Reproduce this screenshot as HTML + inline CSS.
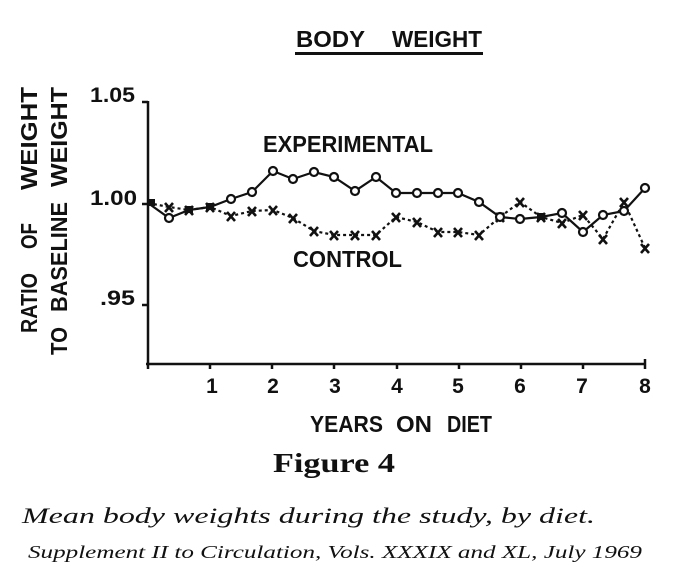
<!DOCTYPE html>
<html><head><meta charset="utf-8"><style>
html,body{margin:0;padding:0;background:#fff;}
svg{display:block;}
.s{font-family:"Liberation Sans",sans-serif;font-weight:bold;fill:#111;}
.r{font-family:"Liberation Serif",serif;fill:#111;}
</style></head><body>
<svg width="677" height="584" viewBox="0 0 677 584" xmlns="http://www.w3.org/2000/svg">
<rect width="677" height="584" fill="#fff"/>
<!-- title -->
<text class="s" x="296" y="47" font-size="23" textLength="69" lengthAdjust="spacingAndGlyphs">BODY</text>
<text class="s" x="392" y="47" font-size="23" textLength="90" lengthAdjust="spacingAndGlyphs">WEIGHT</text>
<rect x="295" y="52" width="188" height="3" fill="#111"/>
<!-- y label -->
<g transform="translate(37,333) rotate(-90)">
<text class="s" x="0" y="0" font-size="23" textLength="60" lengthAdjust="spacingAndGlyphs">RATIO</text>
<text class="s" x="84" y="0" font-size="23" textLength="26" lengthAdjust="spacingAndGlyphs">OF</text>
<text class="s" x="143" y="0" font-size="23" textLength="103" lengthAdjust="spacingAndGlyphs">WEIGHT</text>
</g>
<g transform="translate(67,355) rotate(-90)">
<text class="s" x="0" y="0" font-size="23" textLength="28" lengthAdjust="spacingAndGlyphs">TO</text>
<text class="s" x="43" y="0" font-size="23" textLength="110" lengthAdjust="spacingAndGlyphs">BASELINE</text>
<text class="s" x="168" y="0" font-size="23" textLength="100" lengthAdjust="spacingAndGlyphs">WEIGHT</text>
</g>
<!-- y tick labels -->
<text class="s" x="90" y="102" font-size="21" textLength="45" lengthAdjust="spacingAndGlyphs">1.05</text>
<text class="s" x="90" y="205" font-size="21" textLength="47" lengthAdjust="spacingAndGlyphs">1.00</text>
<text class="s" x="100" y="305" font-size="21" textLength="35" lengthAdjust="spacingAndGlyphs">.95</text>
<!-- axes -->
<g stroke="#111" stroke-width="2.5" fill="none">
<line x1="148" y1="101" x2="148" y2="365"/>
<line x1="146" y1="364" x2="646" y2="364"/>
<line x1="142" y1="102" x2="148" y2="102"/>
<line x1="142" y1="204" x2="148" y2="204"/>
<line x1="142" y1="305" x2="148" y2="305"/>
<line x1="148" y1="364" x2="148" y2="369"/>
<line x1="210" y1="364" x2="210" y2="369"/>
<line x1="272" y1="364" x2="272" y2="369"/>
<line x1="334" y1="364" x2="334" y2="369"/>
<line x1="397" y1="364" x2="397" y2="369"/>
<line x1="459" y1="364" x2="459" y2="369"/>
<line x1="521" y1="364" x2="521" y2="369"/>
<line x1="583" y1="364" x2="583" y2="369"/>
<line x1="645" y1="359" x2="645" y2="369"/>
</g>
<!-- x tick labels -->
<g class="s" font-size="21" text-anchor="middle">
<text x="212" y="393">1</text>
<text x="273" y="393">2</text>
<text x="335" y="393">3</text>
<text x="397" y="393">4</text>
<text x="458" y="393">5</text>
<text x="520" y="393">6</text>
<text x="582" y="393">7</text>
<text x="645" y="393">8</text>
</g>
<text class="s" x="310" y="432" font-size="23" textLength="73" lengthAdjust="spacingAndGlyphs">YEARS</text>
<text class="s" x="396" y="432" font-size="23" textLength="36" lengthAdjust="spacingAndGlyphs">ON</text>
<text class="s" x="447" y="432" font-size="23" textLength="45" lengthAdjust="spacingAndGlyphs">DIET</text>
<!-- series labels -->
<text class="s" x="263" y="152" font-size="23" textLength="170" lengthAdjust="spacingAndGlyphs">EXPERIMENTAL</text>
<text class="s" x="293" y="267" font-size="23" textLength="109" lengthAdjust="spacingAndGlyphs">CONTROL</text>
<!-- control series -->
<polyline fill="none" stroke="#111" stroke-width="2.2" stroke-dasharray="3,3" points="148,203 169,207 189,210 210,207 231,216 252,211 273,210 293,218 314,231 334,235 355,235 376,235 396,217 417,222 438,232 458,232 479,235 500,217 520,202 541,217 562,223 583,215 603,239 624,202 645,248"/>
<g stroke="#111" stroke-width="2.6" fill="none">
<path d="M165,203 l8,9 M173,203 l-8,9"/>
<path d="M185,206 l8,9 M193,206 l-8,9"/>
<path d="M206,203 l8,9 M214,203 l-8,9"/>
<path d="M227,212 l8,9 M235,212 l-8,9"/>
<path d="M248,207 l8,9 M256,207 l-8,9"/>
<path d="M269,206 l8,9 M277,206 l-8,9"/>
<path d="M289,214 l8,9 M297,214 l-8,9"/>
<path d="M310,227 l8,9 M318,227 l-8,9"/>
<path d="M330,231 l8,9 M338,231 l-8,9"/>
<path d="M351,231 l8,9 M359,231 l-8,9"/>
<path d="M372,231 l8,9 M380,231 l-8,9"/>
<path d="M392,213 l8,9 M400,213 l-8,9"/>
<path d="M413,218 l8,9 M421,218 l-8,9"/>
<path d="M434,228 l8,9 M442,228 l-8,9"/>
<path d="M454,228 l8,9 M462,228 l-8,9"/>
<path d="M475,231 l8,9 M483,231 l-8,9"/>
<path d="M496,213 l8,9 M504,213 l-8,9"/>
<path d="M516,198 l8,9 M524,198 l-8,9"/>
<path d="M537,213 l8,9 M545,213 l-8,9"/>
<path d="M558,219 l8,9 M566,219 l-8,9"/>
<path d="M579,211 l8,9 M587,211 l-8,9"/>
<path d="M599,235 l8,9 M607,235 l-8,9"/>
<path d="M620,198 l8,9 M628,198 l-8,9"/>
<path d="M641,244 l8,9 M649,244 l-8,9"/>
</g>
<!-- experimental series -->
<polyline fill="none" stroke="#111" stroke-width="2.2" points="148,203 169,218 189,210 210,207 231,199 252,192 273,171 293,179 314,172 334,177 355,191 376,177 396,193 417,193 438,193 458,193 479,202 500,217 520,219 541,217 562,213 583,232 603,215 624,211 645,188"/>
<g stroke="#111" stroke-width="2.2" fill="#fff">
<circle cx="169" cy="218" r="4"/>
<circle cx="231" cy="199" r="4"/>
<circle cx="252" cy="192" r="4"/>
<circle cx="273" cy="171" r="4"/>
<circle cx="293" cy="179" r="4"/>
<circle cx="314" cy="172" r="4"/>
<circle cx="334" cy="177" r="4"/>
<circle cx="355" cy="191" r="4"/>
<circle cx="376" cy="177" r="4"/>
<circle cx="396" cy="193" r="4"/>
<circle cx="417" cy="193" r="4"/>
<circle cx="438" cy="193" r="4"/>
<circle cx="458" cy="193" r="4"/>
<circle cx="479" cy="202" r="4"/>
<circle cx="500" cy="217" r="4"/>
<circle cx="520" cy="219" r="4"/>
<circle cx="562" cy="213" r="4"/>
<circle cx="583" cy="232" r="4"/>
<circle cx="603" cy="215" r="4"/>
<circle cx="624" cy="211" r="4"/>
<circle cx="645" cy="188" r="4"/>
</g>
<g fill="#111">
<rect x="148" y="199" width="7" height="7"/>
<rect x="185" y="206" width="8" height="7"/>
<rect x="206" y="203" width="8" height="7"/>
<rect x="537" y="213" width="8" height="7"/>
</g>
<!-- captions -->
<text class="r" x="273" y="472" font-size="27" font-weight="bold" textLength="122" lengthAdjust="spacingAndGlyphs">Figure 4</text>
<text class="r" x="22" y="523" font-size="22" font-style="italic" textLength="573" lengthAdjust="spacingAndGlyphs">Mean body weights during the study, by diet.</text>
<text class="r" x="28" y="558" font-size="18" font-style="italic" textLength="614" lengthAdjust="spacingAndGlyphs">Supplement II to Circulation, Vols. XXXIX and XL, July 1969</text>
</svg>
</body></html>
